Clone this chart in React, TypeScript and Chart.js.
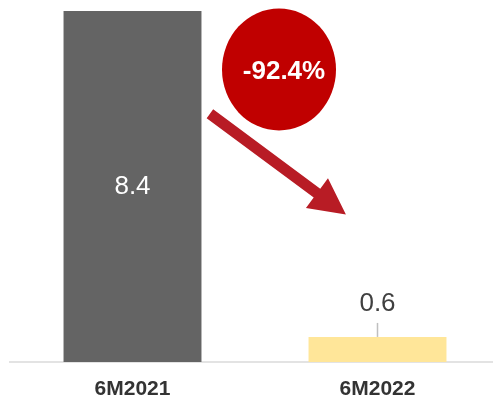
import React, { useEffect, useRef } from "react";
import { Chart, registerables } from "chart.js";

Chart.register(...registerables);

const categories = ["6M2021", "6M2022"];
const values = [8.4, 0.6];
const barColors = ["#646464", "#FFE699"];
const changeLabel = "-92.4%";
// decoration anchors in data space: [categoryIndex, value]
const circleAnchor = [0.598, 7.0];
const arrowFrom = [0.316, 5.94];
const arrowTo = [0.871, 3.53];

const decorPlugin = {
  id: "decor",
  afterDatasetsDraw(chart: any) {
    const ctx = chart.ctx;
    const xs = chart.scales.x;
    const ys = chart.scales.y;
    const meta = chart.getDatasetMeta(0);
    ctx.save();
    // value labels
    meta.data.forEach((bar: any, i: number) => {
      const v = values[i];
      const h = bar.base - bar.y;
      ctx.textAlign = "center";
      ctx.textBaseline = "middle";
      ctx.font = "26px Arial, 'Liberation Sans', sans-serif";
      if (h > 60) {
        ctx.fillStyle = "#ffffff";
        ctx.fillText(v.toFixed(1), bar.x, (bar.y + bar.base) / 2 + 0.5);
      } else {
        ctx.strokeStyle = "#bfbfbf";
        ctx.lineWidth = 1.5;
        ctx.beginPath();
        ctx.moveTo(bar.x, bar.y);
        ctx.lineTo(bar.x, bar.y - 14);
        ctx.stroke();
        ctx.fillStyle = "#404040";
        ctx.fillText(v.toFixed(1), bar.x, bar.y - 33);
      }
    });
    // arrow
    const x1 = xs.getPixelForValue(arrowFrom[0]);
    const y1 = ys.getPixelForValue(arrowFrom[1]);
    const x2 = xs.getPixelForValue(arrowTo[0]);
    const y2 = ys.getPixelForValue(arrowTo[1]);
    const dx = x2 - x1;
    const dy = y2 - y1;
    const len = Math.hypot(dx, dy);
    const ux = dx / len;
    const uy = dy / len;
    const nx = -uy;
    const ny = ux;
    const headLen = 36;
    const headHalf = 18.5;
    const shaftHalf = 5.5;
    const bx = x2 - ux * headLen;
    const by = y2 - uy * headLen;
    ctx.fillStyle = "#B81C25";
    ctx.beginPath();
    ctx.moveTo(x1 + nx * shaftHalf, y1 + ny * shaftHalf);
    ctx.lineTo(bx + nx * shaftHalf, by + ny * shaftHalf);
    ctx.lineTo(bx + nx * headHalf, by + ny * headHalf);
    ctx.lineTo(x2, y2);
    ctx.lineTo(bx - nx * headHalf, by - ny * headHalf);
    ctx.lineTo(bx - nx * shaftHalf, by - ny * shaftHalf);
    ctx.lineTo(x1 - nx * shaftHalf, y1 - ny * shaftHalf);
    ctx.closePath();
    ctx.fill();
    // circle
    const cx = xs.getPixelForValue(circleAnchor[0]);
    const cy = ys.getPixelForValue(circleAnchor[1]);
    ctx.fillStyle = "#C00000";
    ctx.beginPath();
    ctx.ellipse(cx, cy, 57, 61, 0, 0, Math.PI * 2);
    ctx.fill();
    ctx.fillStyle = "#ffffff";
    ctx.font = "bold 26px Arial, 'Liberation Sans', sans-serif";
    ctx.textAlign = "center";
    ctx.textBaseline = "middle";
    ctx.fillText(changeLabel, cx + 5, cy + 2);
    ctx.restore();
  },
};

export default function App() {
  const ref = useRef<HTMLCanvasElement>(null);
  useEffect(() => {
    if (!ref.current) return;
    const chart = new Chart(ref.current, {
      type: "bar",
      data: {
        labels: categories,
        datasets: [
          {
            data: values,
            backgroundColor: barColors,
            borderWidth: 0,
            categoryPercentage: 1,
            barPercentage: 0.563,
          },
        ],
      },
      options: {
        animation: false,
        responsive: false,
        devicePixelRatio: 1,
        layout: { padding: { left: 10, right: 0, top: 11, bottom: -19 } },
        plugins: { legend: { display: false }, tooltip: { enabled: false } },
        scales: {
          y: { display: false, min: 0, max: 8.4 },
          x: {
            grid: { display: false, drawTicks: false },
            border: { display: true, color: "#e3e3e3", width: 2 },
            ticks: {
              color: "#333333",
              padding: 17,
              font: { family: "Arial, 'Liberation Sans', sans-serif", size: 21, weight: "bold", lineHeight: 1 },
            },
          },
        },
      },
      plugins: [decorPlugin],
    });
    return () => chart.destroy();
  }, []);
  return (
    <div style={{ position: "fixed", left: 0, top: 0, width: 493, height: 398, overflow: "hidden", background: "#fff" }}>
      <canvas ref={ref} width={500} height={398} style={{ width: 500, height: 398, display: "block" }} />
    </div>
  );
}
